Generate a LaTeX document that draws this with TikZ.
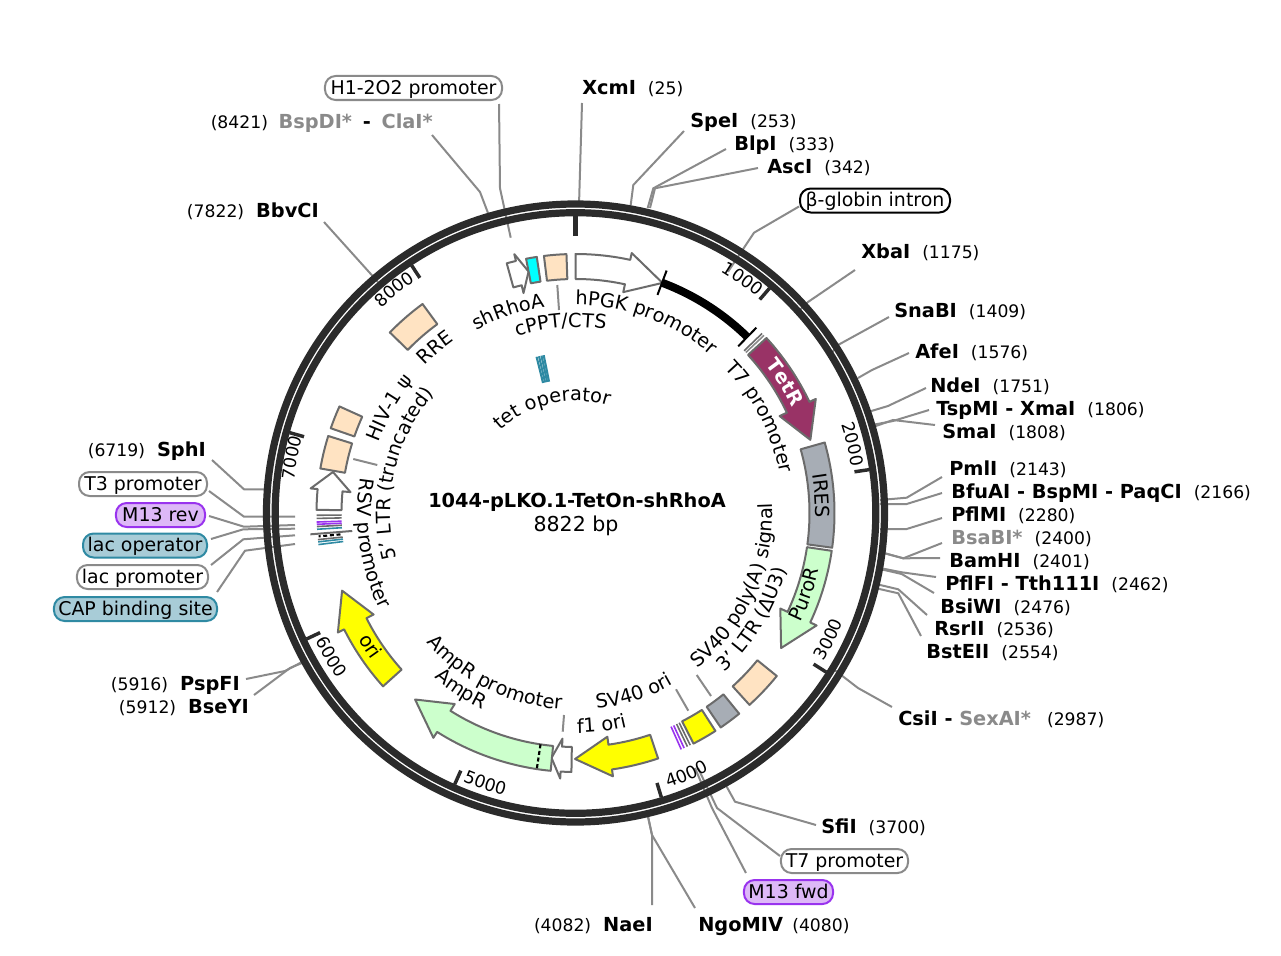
\documentclass[tikz,border=0pt]{standalone}
\usepackage{fontspec}
\setmainfont{DejaVu Sans}
\usetikzlibrary{decorations.text}
\definecolor{ringgray}{HTML}{2B2B2B}
\definecolor{featgray}{HTML}{6B6B6B}
\definecolor{leadgray}{HTML}{8A8A8A}
\definecolor{peach}{HTML}{FFE3C2}
\definecolor{steel}{HTML}{A7ADB5}
\definecolor{lightgreen}{HTML}{CCFFCC}
\definecolor{burgundy}{HTML}{993366}
\definecolor{teal}{HTML}{2F8AA3}
\definecolor{tealfill}{HTML}{A8CCD7}
\definecolor{purpleline}{HTML}{9933EE}
\definecolor{purplefill}{HTML}{DDB8F7}
\definecolor{oriyellow}{HTML}{FFFF00}
\definecolor{brightcyan}{HTML}{00FFFF}
\newcommand{\arcfont}{\fontsize{14.5}{17}\selectfont}
\newcommand{\tickfont}{\fontsize{13}{15}\selectfont}
\newcommand{\posn}[1]{{\mdseries\fontsize{12.9}{15}\selectfont #1}}
\newcommand{\greyname}[1]{\textcolor{leadgray}{#1}}
\newcommand{\arclabel}[4]{\path[decorate,decoration={text along path,text align=center,text={|\arcfont|#4}}] (#1:#3) arc[start angle=#1,end angle=#2,radius=#3];}
\newcommand{\ticklabel}[4]{\path[decorate,decoration={text along path,text align=center,text={|\tickfont|#4}}] (#1:#3) arc[start angle=#1,end angle=#2,radius=#3];}
\newcommand{\arcarrow}[4]{\draw[feature,fill=#4] (#1:234) arc[start angle=#1,end angle=#2,radius=234] -- (#2:226) -- (#3:246) -- (#2:266) -- (#2:259) arc[start angle=#2,end angle=#1,radius=259] -- cycle;}
\newcommand{\arcbox}[3]{\draw[feature,fill=#3] (#1:234) arc[start angle=#1,end angle=#2,radius=234] -- (#2:259) arc[start angle=#2,end angle=#1,radius=259] -- cycle;}
\begin{document}
\begin{tikzpicture}[
  x=0.75pt, y=-0.75pt,
  site/.style={inner sep=0pt, text height=10.6pt, text depth=0pt, font=\fontsize{14.5}{17}\selectfont\bfseries},
  pill/.style={draw=#1, line width=1.5pt, rounded corners=8pt, minimum height=18pt, inner sep=0pt, text height=10.4pt, text depth=1pt, font=\fontsize{14.2}{17}\selectfont},
  leader/.style={draw=leadgray, line width=1.5pt},
  ring/.style={draw=ringgray, line width=5.4pt},
  tickmark/.style={draw=ringgray, line width=2.6pt},
  feature/.style={draw=featgray, line width=1.5pt, line join=round},
  stripe/.style={line width=1.2pt}
]
\useasboundingbox (0,0) rectangle (1281,956);
% labels at the top
\node[pill=leadgray, fill=white, minimum width=132.8pt] (hone) at (413.5,88) {H1-2O2 promoter};
\node[site, anchor=east] (clai) at (433,121) {\posn{(8421)}\hspace{8pt}\greyname{BspDI*}\hspace{3pt} - \hspace{3pt}\greyname{ClaI*}};
\node[site, anchor=west] (xcmi) at (582,87) {XcmI\hspace{9pt}\posn{(25)}};
\node[site, anchor=west] (spei) at (690,120) {SpeI\hspace{9pt}\posn{(253)}};
\node[site, anchor=west] (blpi) at (734,143) {BlpI\hspace{9pt}\posn{(333)}};
\node[site, anchor=west] (asci) at (767,166) {AscI\hspace{9pt}\posn{(342)}};
\node[pill=black, fill=white, minimum width=112.5pt] (globin) at (875,200.5) {β-globin intron};
\node[site, anchor=west] (xbai) at (861,251) {XbaI\hspace{9pt}\posn{(1175)}};
% labels on the right
\node[site, anchor=west] (snabi) at (894,310) {SnaBI\hspace{9pt}\posn{(1409)}};
\node[site, anchor=west] (afei) at (915,351) {AfeI\hspace{9pt}\posn{(1576)}};
\node[site, anchor=west] (ndei) at (930,385) {NdeI\hspace{9pt}\posn{(1751)}};
\node[site, anchor=west] (xmai) at (936,408) {TspMI - XmaI\hspace{9pt}\posn{(1806)}};
\node[site, anchor=west] (smai) at (942,431) {SmaI\hspace{9pt}\posn{(1808)}};
\node[site, anchor=west] (pmli) at (949,468) {PmlI\hspace{9pt}\posn{(2143)}};
\node[site, anchor=west] (paqci) at (951,491) {BfuAI - BspMI - PaqCI\hspace{9pt}\posn{(2166)}};
\node[site, anchor=west] (pflmi) at (951,514) {PflMI\hspace{9pt}\posn{(2280)}};
\node[site, anchor=west] (bsabi) at (951,537) {\greyname{BsaBI*}\hspace{9pt}\posn{(2400)}};
\node[site, anchor=west] (bamhi) at (949,560) {BamHI\hspace{9pt}\posn{(2401)}};
\node[site, anchor=west] (tthi) at (945,583) {PflFI - Tth111I\hspace{9pt}\posn{(2462)}};
\node[site, anchor=west] (bsiwi) at (940,606) {BsiWI\hspace{9pt}\posn{(2476)}};
\node[site, anchor=west] (rsrii) at (934,628) {RsrII\hspace{9pt}\posn{(2536)}};
\node[site, anchor=west] (bsteii) at (926,651) {BstEII\hspace{9pt}\posn{(2554)}};
\node[site, anchor=west] (sexai) at (898,718) {CsiI - \greyname{SexAI*}\hspace{12pt}\posn{(2987)}};
% labels at the bottom
\node[site, anchor=west] (sfii) at (821,826) {SfiI\hspace{9pt}\posn{(3700)}};
\node[pill=leadgray, fill=white, minimum width=95.3pt] (tseven) at (844.5,861) {T7 promoter};
\node[pill=purpleline, fill=purplefill, minimum width=66.8pt] (mfwd) at (788.5,892) {M13 fwd};
\node[site, anchor=west] (ngomiv) at (698,924) {NgoMIV\hspace{7pt}\posn{(4080)}};
\node[site, anchor=east] (naei) at (653,924) {\posn{(4082)}\hspace{9pt}NaeI};
% labels on the left
\node[site, anchor=east] (pspfi) at (240,683) {\posn{(5916)}\hspace{9pt}PspFI};
\node[site, anchor=east] (bseyi) at (249,706) {\posn{(5912)}\hspace{9pt}BseYI};
\node[site, anchor=east] (sphi) at (206,449) {\posn{(6719)}\hspace{9pt}SphI};
\node[pill=leadgray, fill=white, minimum width=96pt] (tthree) at (143,484) {T3 promoter};
\node[pill=purpleline, fill=purplefill, minimum width=66.8pt] (mrev) at (160.5,515) {M13 rev};
\node[pill=teal, fill=tealfill, minimum width=93pt] (lacop) at (145,545.5) {lac operator};
\node[pill=leadgray, fill=white, minimum width=98.3pt] (lacpro) at (142.5,577) {lac promoter};
\node[pill=teal, fill=tealfill, minimum width=122.3pt] (capsite) at (135.5,609) {CAP binding site};
\node[site, anchor=east] (bbvci) at (319,210) {\posn{(7822)}\hspace{9pt}BbvCI};
% leader ends
\coordinate (honeend) at (510.7,237.7);
\coordinate (claiend) at (488,213);
\coordinate (xcmiend) at (579,205);
\coordinate (speiend) at (630.7,205);
\coordinate (blpiend) at (647.7,208);
\coordinate (ascien) at (650,208);
\coordinate (globinend) at (728,271.7);
\coordinate (xbaiend) at (797,313);
\coordinate (snabiend) at (830,355);
\coordinate (afeiend) at (858,378);
\coordinate (ndeiend) at (868,412);
\coordinate (xmaiend) at (872,425);
\coordinate (smaiend) at (873,427);
\coordinate (pmliend) at (880,500);
\coordinate (paqciend) at (880,504);
\coordinate (pflmiend) at (880,529);
\coordinate (bsabiend) at (880,552);
\coordinate (bamhiend) at (880,552);
\coordinate (tthiend) at (880,568);
\coordinate (bsiwiend) at (880,569);
\coordinate (rsriiend) at (876,584);
\coordinate (bsteiiend) at (875,588);
\coordinate (sexaiend) at (832,668);
\coordinate (sfiiend) at (726.7,786.7);
\coordinate (tsevenend) at (698,768);
\coordinate (mfwdend) at (695,768);
\coordinate (ngomivend) at (647,812);
\coordinate (naeiend) at (647,812);
\coordinate (pspfiend) at (302,662);
\coordinate (bseyiend) at (302,663);
\coordinate (sphiend) at (270,489.3);
\coordinate (tthreeend) at (295,516.7);
\coordinate (mrevend) at (295,525);
\coordinate (lacopend) at (295,528.7);
\coordinate (lacproend) at (295,535.3);
\coordinate (capsiteend) at (295,544);
\coordinate (bbvciend) at (378,282);
% leaders
\draw[leader] ([shift={(-4,3)}]hone.south east) -- (500,188.3) -- (honeend);
\draw[leader] ([shift={(-1,14)}]clai.east) -- (480,192) -- (claiend);
\draw[leader] ([shift={(0,16)}]xcmi.west) -- (xcmiend);
\draw[leader] ([shift={(-6,11)}]spei.west) -- (633.3,185) -- (speiend);
\draw[leader] ([shift={(-8,6)}]blpi.west) -- (653.3,188.3) -- (blpiend);
\draw[leader] ([shift={(-9,2)}]asci.west) -- (655,188.3) -- (ascien);
\draw[leader] ([shift={(0,6)}]globin.west) -- (754,232.7) -- (globinend);
\draw[leader] ([shift={(-6,19)}]xbai.west) -- (808,302) -- (xbaiend);
\draw[leader] ([shift={(-5,7)}]snabi.west) -- (838,345) -- (snabiend);
\draw[leader] ([shift={(-6,2)}]afei.west) -- (872,370) -- (afeiend);
\draw[leader] ([shift={(-4,3)}]ndei.west) -- (888,406) -- (ndeiend);
\draw[leader] ([shift={(-7,2)}]xmai.west) -- (893,421) -- (xmaiend);
\draw[leader] ([shift={(-7,-6)}]smai.west) -- (893,420) -- (smaiend);
\draw[leader] ([shift={(-7,9)}]pmli.west) -- (906.7,497.7) -- (pmliend);
\draw[leader] ([shift={(-9,2)}]paqci.west) -- (906.7,504) -- (paqciend);
\draw[leader] ([shift={(-9,4)}]pflmi.west) -- (906.7,529) -- (pflmiend);
\draw[leader] ([shift={(-9,6)}]bsabi.west) -- (903.3,558.3) -- (bsabiend);
\draw[leader] ([shift={(-9,-2)}]bamhi.west) -- (903.3,558.3) -- (bamhiend);
\draw[leader] ([shift={(-9,-6)}]tthi.west) -- (901.7,572.3) -- (tthiend);
\draw[leader] ([shift={(-6,-13)}]bsiwi.west) -- (901.7,574) -- (bsiwiend);
\draw[leader] ([shift={(-7,-13)}]rsrii.west) -- (898.3,589.3) -- (rsriiend);
\draw[leader] ([shift={(-5,-15)}]bsteii.west) -- (898.3,593.3) -- (bsteiiend);
\draw[leader] ([shift={(-6,-11)}]sexai.west) -- (858,688) -- (sexaiend);
\draw[leader] ([shift={(-5,-1)}]sfii.west) -- (735,801.7) -- (sfiiend);
\draw[leader] ([shift={(0,-5)}]tseven.west) -- (717,808) -- (tsevenend);
\draw[leader] ([shift={(3,-6)}]mfwd.north west) -- (712,808) -- (mfwdend);
\draw[leader] ([shift={(-3,-16)}]ngomiv.west) -- (652,835) -- (ngomivend);
\draw[leader] ([shift={(-1,-19)}]naei.east) -- (652,835) -- (naeiend);
\draw[leader] ([shift={(6,-4)}]pspfi.east) -- (285,671) -- (pspfiend);
\draw[leader] ([shift={(5,-11)}]bseyi.east) -- (290,668) -- (bseyiend);
\draw[leader] ([shift={(6,11)}]sphi.east) -- (244,489.3) -- (sphiend);
\draw[leader] ([shift={(1,7)}]tthree.east) -- (244,516.7) -- (tthreeend);
\draw[leader] ([shift={(3,1)}]mrev.east) -- (244,526.7) -- (mrevend);
\draw[leader] ([shift={(3,-6.5)}]lacop.east) -- (243.3,529.3) -- (lacopend);
\draw[leader] ([shift={(2,-12)}]lacpro.east) -- (243.3,539.3) -- (lacproend);
\draw[leader] ([shift={(-1,-17)}]capsite.east) -- (245,550.7) -- (capsiteend);
\draw[leader] ([shift={(5,12)}]bbvci.east) -- (bbvciend);
\coordinate (camprend) at (562.7,731.7);
\coordinate (camprlab) at (564,715);
\draw[leader] (camprlab) -- (camprend);
\coordinate (csvlab) at (676,689.3);
\coordinate (csvend) at (688.3,710.7);
\draw[leader] (csvlab) -- (csvend);
\coordinate (cpolylab) at (696.7,675);
\coordinate (cpolyend) at (711,696);
\draw[leader] (cpolylab) -- (cpolyend);
\coordinate (cpptend) at (557.3,285);
\coordinate (cpptlab) at (559,310);
\draw[leader] (cpptend) -- (cpptlab);
\coordinate (cltrend) at (353.3,459);
\coordinate (cltrlab) at (377.3,465);
\draw[leader] (cltrend) -- (cltrlab);
% centre text
\node[font=\fontsize{14.5}{17}\selectfont\bfseries, inner sep=0pt] (plasmid) at (577,502) {1044-pLKO.1-TetOn-shRhoA};
\node[font=\fontsize{15.4}{18}\selectfont, inner sep=0pt] (plasmidsize) at (576,526) {8822 bp};
% the map itself, angles clockwise from north
\begin{scope}[shift={(575.5,513)}, rotate=90]
\draw[ring] (0,0) circle[radius=309];
\draw[ring] (0,0) circle[radius=300.3];
\draw[draw=ringgray, line width=4.2pt] (0:277) -- (0:297);
\draw[tickmark] (40.8:282) -- (40.8:297);
\draw[tickmark] (81.6:282) -- (81.6:297);
\draw[tickmark] (122.4:282) -- (122.4:297);
\draw[tickmark] (163.2:282) -- (163.2:297);
\draw[tickmark] (204:282) -- (204:297);
\draw[tickmark] (244.9:282) -- (244.9:297);
\draw[tickmark] (285.7:282) -- (285.7:297);
\draw[tickmark] (326.5:282) -- (326.5:297);
\ticklabel{25}{46}{282}{1000}
\ticklabel{66}{86}{280}{2000}
\ticklabel{127}{106}{289}{3000}
\ticklabel{167}{147}{290}{4000}
\ticklabel{208.5}{188.5}{291}{5000}
\ticklabel{250}{229}{290}{6000}
\ticklabel{271}{291}{283}{7000}
\ticklabel{311}{331}{282}{8000}
% features
\arcarrow{-15.4}{-13.3}{-11}{white}
\arcbox{-11}{-8.6}{brightcyan}
\arcbox{-7}{-2}{peach}
\arcarrow{0}{12.2}{20.7}{white}
\draw[draw=black, line width=6pt] (20.6:246) arc[start angle=20.6,end angle=44.3,radius=246];
\draw[draw=black, line width=1.5pt] (20.6:233) -- (20.6:259);
\draw[draw=black, line width=1.5pt] (44.3:233) -- (44.3:259);
\draw[stripe, draw=featgray] (46.1:234) -- (46.1:259);
\draw[stripe, draw=leadgray] (46.7:234) -- (46.7:259);
\arcarrow{47.5}{64.6}{72.7}{burgundy}
\arcbox{74.2}{97.7}{steel}
\arcarrow{98.4}{115}{123.3}{lightgreen}
\arcbox{129}{137.8}{peach}
\arcbox{140.8}{145.9}{steel}
\arcbox{147.3}{152.9}{oriyellow}
\draw[stripe, draw=featgray] (153.7:234) -- (153.7:259);
\draw[stripe, draw=featgray] (154.4:234) -- (154.4:259);
\draw[stripe, draw=purpleline] (155.2:234) -- (155.2:259);
\draw[stripe, draw=purpleline] (155.9:234) -- (155.9:259);
\arcarrow{161.4}{171.9}{180.1}{oriyellow}
\arcarrow{180.9}{183.3}{185.6}{white}
\arcarrow{185.5}{212.3}{220.7}{lightgreen}
\draw[draw=black, line width=1.6pt, densely dashed] (188.6:234) -- (188.6:258);
\arcarrow{228}{243.3}{251.6}{oriyellow}
\draw[stripe, draw=teal] (263:234) -- (263:259);
\draw[stripe, draw=teal] (263.6:234) -- (263.6:259);
\draw[stripe, draw=featgray] (264.1:234) -- (264.1:259);
\draw[draw=black, line width=1.6pt, densely dashed] (264.8:236) -- (264.8:258);
\draw[draw=featgray, line width=1.5pt] (265.4:224) -- (265.4:266);
\draw[stripe, draw=teal] (266.4:234) -- (266.4:259);
\draw[stripe, draw=featgray] (267:234) -- (267:259);
\draw[stripe, draw=purpleline] (267.5:234) -- (267.5:259);
\draw[stripe, draw=purpleline] (268:234) -- (268:259);
\draw[stripe, draw=featgray] (268.8:234) -- (268.8:259);
\draw[stripe, draw=featgray] (269.5:234) -- (269.5:259);
\arcarrow{270.7}{275.3}{279.6}{white}
\arcbox{279.9}{287.3}{peach}
\arcbox{289.1}{294.3}{peach}
\arcbox{314.2}{323.8}{peach}
\draw[stripe, line width=1.6pt, draw=teal] (-14:134) -- (-14:161);
\draw[stripe, line width=1.6pt, draw=teal] (-13.1:134) -- (-13.1:161);
\draw[stripe, line width=1.6pt, draw=teal] (-12.2:134) -- (-12.2:161);
\draw[stripe, line width=1.6pt, draw=teal] (-11.4:134) -- (-11.4:161);
% curved labels
\arclabel{-10}{50.6}{208}{hPGK promoter}
\arclabel{32}{93}{208}{T7 promoter}
\arclabel{70}{102}{240}{IRES}
\path[decorate,decoration={text along path,text align=center,text={|\arcfont\color{white}\bfseries|TetR}}] (38:241) arc[start angle=38,end angle=78,radius=241];
\arclabel{130}{89}{250}{PuroR}
\arclabel{250}{224}{251}{ori}
\arclabel{159}{70}{197}{SV40 poly(A) signal}
\arclabel{150}{92}{218}{3' LTR (ΔU3)}
\arclabel{190}{134}{197}{SV40 ori}
\arclabel{195}{151}{220}{f1 ori}
\arclabel{250}{163}{197}{AmpR promoter}
\arclabel{235}{191}{217}{AmpR}
\arclabel{292}{231}{218}{RSV promoter}
\arclabel{250}{316}{185}{5' LTR (truncated)}
\arclabel{280}{319}{209}{HIV-1 ψ}
\arclabel{303.7}{335.7}{211}{RRE}
\arclabel{-40}{3}{208}{shRhoA}
\arclabel{-30}{21}{186}{cPPT/CTS}
\arclabel{-56}{31}{112}{tet operator}
\end{scope}
\end{tikzpicture}
\end{document}
